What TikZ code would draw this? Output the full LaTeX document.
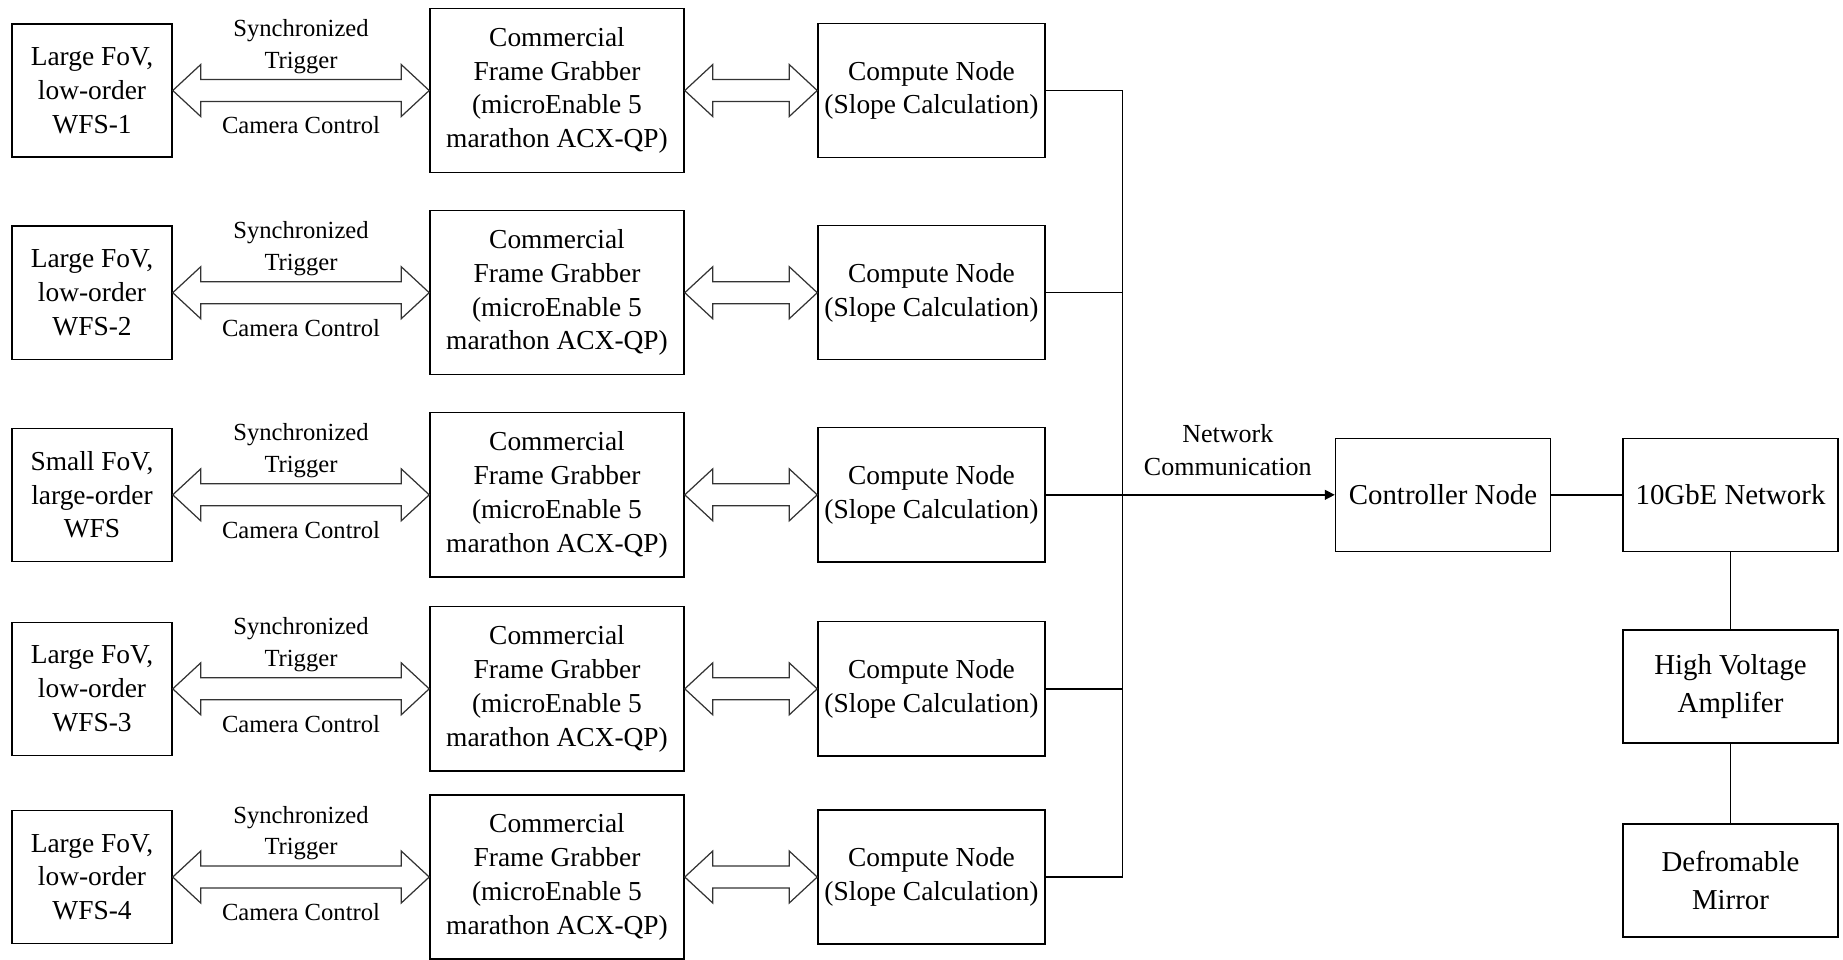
\documentclass[tikz,border=0pt]{standalone}
\usepackage{fontspec}
\setmainfont{Liberation Serif}
\usetikzlibrary{arrows.meta}
\newcommand\fatlink[2]{\draw[fat] (#1.east) -- ++(28,-26) -- ++(0,15) -- ([shift={(-28,-11)}]#2.west) -- ++(0,-15) -- (#2.west) -- ++(-28,26) -- ++(0,-15) -- ([shift={(28,11)}]#1.east) -- ++(0,15) -- cycle;}

\begin{document}
\begin{tikzpicture}[x=0.01cm, y=-0.01cm,
  box/.style={draw, line width=0.4pt, align=center, inner sep=0pt, font=\fontsize{7.8}{9.6}\selectfont},
  wfs/.style={box, minimum width=1.6cm, minimum height=1.33cm},
  grab/.style={box, minimum width=2.54cm, minimum height=1.64cm},
  comp/.style={box, minimum width=2.27cm, minimum height=1.34cm},
  dev/.style={box, minimum width=2.15cm, minimum height=1.13cm, font=\fontsize{8.2}{10.8}\selectfont},
  lbl/.style={align=center, inner sep=0pt, font=\fontsize{7}{9}\selectfont},
  fat/.style={draw=black!80, line width=0.35pt, line join=miter}]
\useasboundingbox (0,0) rectangle (1843,959);

\node[wfs] (w1) at (92,90.5) {Large FoV,\\low-order\\WFS-1};
\node[wfs] (w2) at (92,292.7) {Large FoV,\\low-order\\WFS-2};
\node[wfs] (w3) at (92,494.8) {Small FoV,\\large-order\\WFS};
\node[wfs] (w4) at (92,688.8) {Large FoV,\\low-order\\WFS-3};
\node[wfs] (w5) at (92,877) {Large FoV,\\low-order\\WFS-4};

\node[grab] (f1) at (557,90.5) {Commercial\\Frame Grabber\\(microEnable 5\\marathon ACX-QP)};
\node[grab] (f2) at (557,292.7) {Commercial\\Frame Grabber\\(microEnable 5\\marathon ACX-QP)};
\node[grab] (f3) at (557,494.8) {Commercial\\Frame Grabber\\(microEnable 5\\marathon ACX-QP)};
\node[grab] (f4) at (557,688.8) {Commercial\\Frame Grabber\\(microEnable 5\\marathon ACX-QP)};
\node[grab] (f5) at (557,877) {Commercial\\Frame Grabber\\(microEnable 5\\marathon ACX-QP)};

\node[comp] (c1) at (931.5,90.5) {Compute Node\\(Slope Calculation)};
\node[comp] (c2) at (931.5,292.7) {Compute Node\\(Slope Calculation)};
\node[comp] (c3) at (931.5,494.8) {Compute Node\\(Slope Calculation)};
\node[comp] (c4) at (931.5,688.8) {Compute Node\\(Slope Calculation)};
\node[comp] (c5) at (931.5,877) {Compute Node\\(Slope Calculation)};

\node[dev] (ctrl) at (1443,494.8) {Controller Node};
\node[dev] (net) at (1730.5,494.8) {10GbE Network};
\node[dev] (hva) at (1730.5,686.5) {High Voltage\\Amplifer};
\node[dev] (dm) at (1730.5,880.5) {Defromable\\Mirror};

\fatlink{w1}{f1}
\fatlink{w2}{f2}
\fatlink{w3}{f3}
\fatlink{w4}{f4}
\fatlink{w5}{f5}

\fatlink{f1}{c1}
\fatlink{f2}{c2}
\fatlink{f3}{c3}
\fatlink{f4}{c4}
\fatlink{f5}{c5}

\path (w1.east) -- (f1.west) node[lbl, midway, yshift=0.44cm] {Synchronized\\Trigger} node[lbl, midway, yshift=-0.35cm] {Camera Control};
\path (w2.east) -- (f2.west) node[lbl, midway, yshift=0.44cm] {Synchronized\\Trigger} node[lbl, midway, yshift=-0.35cm] {Camera Control};
\path (w3.east) -- (f3.west) node[lbl, midway, yshift=0.44cm] {Synchronized\\Trigger} node[lbl, midway, yshift=-0.35cm] {Camera Control};
\path (w4.east) -- (f4.west) node[lbl, midway, yshift=0.44cm] {Synchronized\\Trigger} node[lbl, midway, yshift=-0.35cm] {Camera Control};
\path (w5.east) -- (f5.west) node[lbl, midway, yshift=0.44cm] {Synchronized\\Trigger} node[lbl, midway, yshift=-0.35cm] {Camera Control};

\coordinate (bus) at (1122.5,494.8);

\begin{scope}[line width=0.4pt]
\draw (c1.east) -| (bus);
\draw (c2.east) -| (bus);
\draw (c4.east) -| (bus);
\draw (c5.east) -| (bus);
\draw[-{Triangle[length=2.8pt,width=2.8pt]}] (c3.east) -- (ctrl.west) node[lbl, pos=0.63, yshift=0.45cm, font=\fontsize{7.4}{9.4}\selectfont] {Network\\Communication};
\draw (ctrl) -- (net);
\draw (net) -- (hva);
\draw (hva) -- (dm);
\end{scope}

\end{tikzpicture}
\end{document}
